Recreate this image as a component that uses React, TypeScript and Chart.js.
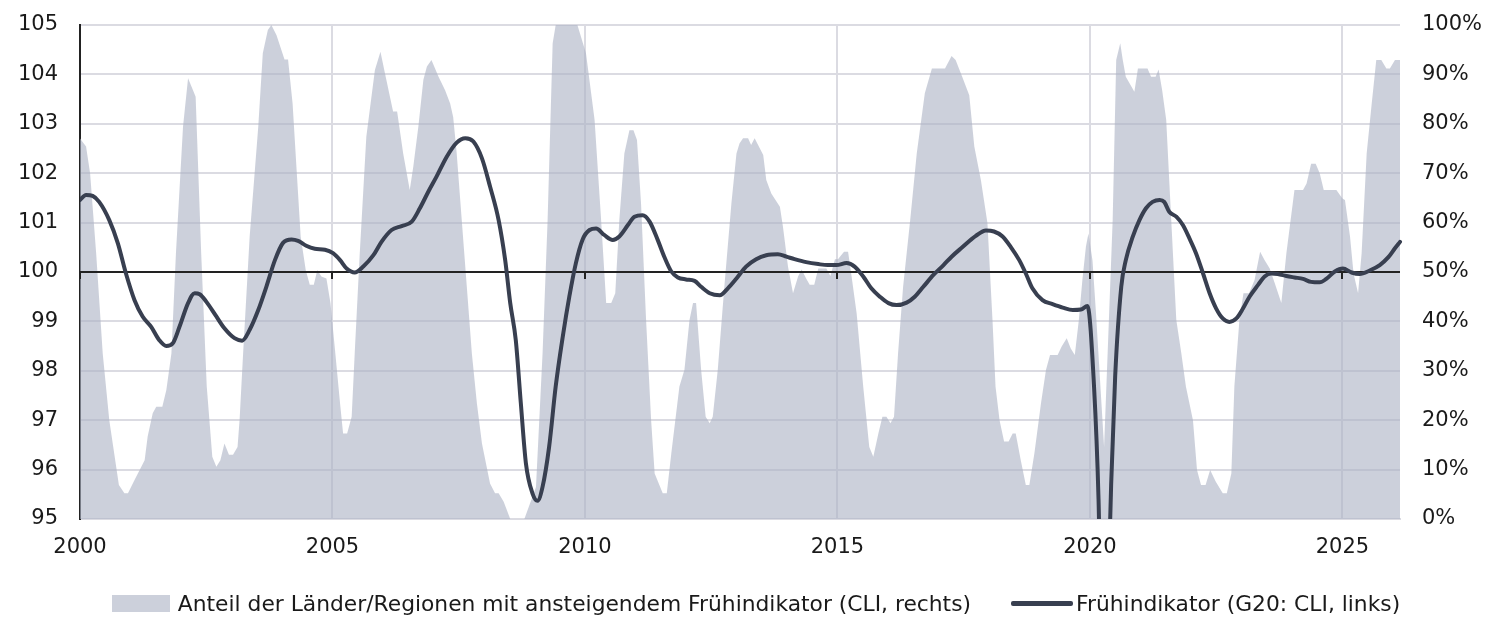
import React, { useEffect, useRef } from "react";
import { Chart, registerables } from "chart.js";

Chart.register(...registerables);

// Share of countries/regions with a rising CLI (right axis, %), x in decimal years
const shareDates = [
  2000.0, 2000.12, 2000.2, 2000.32, 2000.45, 2000.58, 2000.77, 2000.88, 2000.95, 2001.08,
  2001.28, 2001.34, 2001.44, 2001.51, 2001.63, 2001.71, 2001.81, 2001.9, 2002.04, 2002.14,
  2002.25, 2002.29, 2002.4, 2002.51, 2002.62, 2002.7, 2002.78, 2002.86, 2002.95, 2003.03,
  2003.12, 2003.16, 2003.23, 2003.36, 2003.53, 2003.62, 2003.72, 2003.79, 2003.89, 2004.05,
  2004.12, 2004.21, 2004.29, 2004.37, 2004.47, 2004.55, 2004.63, 2004.7, 2004.78, 2004.88,
  2004.96, 2005.05, 2005.15, 2005.21, 2005.29, 2005.38, 2005.44, 2005.54, 2005.67, 2005.84,
  2005.95, 2006.04, 2006.2, 2006.28, 2006.4, 2006.53, 2006.6, 2006.7, 2006.8, 2006.87,
  2006.96, 2007.1, 2007.23, 2007.33, 2007.39, 2007.46, 2007.56, 2007.66, 2007.76, 2007.86,
  2007.96, 2008.12, 2008.22, 2008.29, 2008.39, 2008.52,
  2008.8, 2009.03, 2009.16, 2009.26, 2009.36, 2009.42, 2009.85, 2010.02, 2010.19, 2010.32,
  2010.42, 2010.52, 2010.6, 2010.68, 2010.78, 2010.88, 2010.96, 2011.03, 2011.11, 2011.21,
  2011.31, 2011.38, 2011.54, 2011.62, 2011.71, 2011.87, 2011.97, 2012.07, 2012.14, 2012.2,
  2012.3, 2012.39, 2012.47, 2012.53, 2012.63, 2012.76, 2012.9, 2013.0, 2013.06, 2013.13,
  2013.23, 2013.29, 2013.36, 2013.53, 2013.59, 2013.69, 2013.86, 2013.92, 2014.02, 2014.12,
  2014.22, 2014.29, 2014.38, 2014.45, 2014.54, 2014.62, 2014.78, 2014.86, 2014.95, 2015.01,
  2015.13, 2015.21, 2015.28, 2015.38, 2015.51, 2015.63, 2015.71, 2015.81, 2015.89, 2015.97,
  2016.05, 2016.12, 2016.2, 2016.3, 2016.44, 2016.57, 2016.73, 2016.87, 2017.13, 2017.26,
  2017.34, 2017.47, 2017.61, 2017.71, 2017.84, 2017.97, 2018.07, 2018.13, 2018.21, 2018.3,
  2018.39, 2018.47, 2018.53, 2018.63, 2018.73, 2018.8, 2018.9, 2019.03, 2019.13, 2019.21,
  2019.36, 2019.44, 2019.54, 2019.62, 2019.7, 2019.78, 2019.85, 2019.92, 2019.97, 2020.05,
  2020.12, 2020.28, 2020.45, 2020.52, 2020.6, 2020.65, 2020.71, 2020.88, 2020.95, 2021.14,
  2021.21, 2021.3, 2021.36, 2021.43, 2021.51, 2021.61, 2021.71, 2021.81, 2021.9, 2022.04,
  2022.12, 2022.2, 2022.29, 2022.38, 2022.49, 2022.63, 2022.71, 2022.8, 2022.86, 2022.96,
  2023.04, 2023.15, 2023.26, 2023.37, 2023.46, 2023.56, 2023.66, 2023.79, 2023.89, 2024.05,
  2024.22, 2024.29, 2024.38, 2024.47, 2024.55, 2024.63, 2024.88, 2025.0, 2025.05, 2025.15,
  2025.22, 2025.31, 2025.38, 2025.48, 2025.58, 2025.67, 2025.77, 2025.87, 2025.94, 2026.04,
  2026.14,
];
const shareValues = [
  77, 75.4, 70, 53.8, 33.5, 20, 6.9, 5.2, 5.2, 7.9,
  11.9, 16.7, 21.4, 22.7, 22.7, 26.1, 33.5, 53.8, 79.4, 89.2,
  86.5, 85.5, 53.8, 26.8, 12.6, 10.6, 11.9, 15.3, 13, 13,
  14.6, 20, 33.5, 57.2, 79.4, 94.3, 99, 100, 98, 93,
  93, 84.1, 70.6, 57.2, 50.4, 47.4, 47.4, 50.4, 49.1, 48.7,
  43.7, 34.2, 23.4, 17.3, 17.3, 20.7, 33.5, 53.8, 77.4, 90.9,
  94.6, 90.2, 82.5, 82.5, 74, 66.6, 71.3, 79.4, 88.9, 91.6,
  92.9, 89.5, 86.8, 84.1, 81.4, 74, 60.5, 47, 33.5, 23.4,
  15.3, 7.2, 5.2, 5.2, 3.5, 0,
  0, 6.5, 33.5, 60.5, 96.3, 100, 100, 94.3, 80.8, 60.5,
  43.7, 43.7, 45.7, 60.5, 74, 78.7, 78.7, 76.7, 63.9, 40.3,
  20, 9.2, 5.2, 5.2, 13.3, 26.8, 30.2, 40.3, 43.7, 43.7,
  30.2, 20.7, 19.4, 20.7, 30.2, 47, 63.9, 74, 76, 77.1,
  77.1, 75.7, 77.1, 73.7, 68.6, 65.9, 63.2, 59.2, 51.1, 45.7,
  49.1, 50.5, 48.7, 47.4, 47.4, 50.7, 50.7, 49.2, 52.6, 52.6,
  54.1, 54.1, 49.1, 41.6, 26.8, 14.6, 12.6, 17.3, 20.7, 20.7,
  19.4, 20.7, 33.5, 47, 60.5, 74, 86.2, 91.2, 91.2, 93.7,
  92.9, 89.5, 85.8, 75.4, 68.6, 59.9, 40.3, 26.8, 20, 15.7,
  15.7, 17.3, 17.3, 11.9, 6.9, 6.9, 13.3, 23.4, 30.2, 33.2,
  33.2, 34.9, 36.6, 34.5, 33.2, 40.3, 48.4, 55.1, 57.8, 52.4,
  41.6, 14.6, 60.5, 92.9, 96.3, 92.9, 89.5, 86.5, 91.2, 91.2,
  89.5, 89.5, 91, 86.8, 80.8, 60.5, 40.3, 33.5, 26.8, 20,
  9.9, 6.9, 6.9, 9.9, 7.6, 5.2, 5.2, 9.2, 26.8, 40.3,
  45.7, 45.7, 48.4, 54.1, 52.4, 50.7, 47.7, 43.7, 53.8, 66.6,
  66.6, 67.9, 71.9, 71.9, 70, 66.6, 66.6, 64.9, 64.6, 57.2,
  49.7, 45.7, 53.8, 74, 84.1, 92.9, 92.9, 91.2, 91.2, 92.9,
  92.9,
];

// G20 composite leading indicator (left axis)
const cliDates = [
  2000.0, 2000.12, 2000.25, 2000.38, 2000.58, 2000.75, 2000.91, 2001.08, 2001.24, 2001.41,
  2001.57, 2001.71, 2001.84, 2001.97, 2002.14, 2002.27, 2002.37, 2002.5, 2002.7, 2002.86,
  2003.06, 2003.21, 2003.36, 2003.53, 2003.69, 2003.86, 2004.02, 2004.19, 2004.32, 2004.48,
  2004.65, 2004.85, 2005.01, 2005.15, 2005.28, 2005.44, 2005.61, 2005.81, 2005.97, 2006.17,
  2006.37, 2006.57, 2006.73, 2006.9, 2007.06, 2007.26, 2007.46, 2007.63, 2007.79, 2007.96,
  2008.12, 2008.29, 2008.42, 2008.52, 2008.63, 2008.73, 2008.83, 2008.96, 2009.06, 2009.16,
  2009.29, 2009.42, 2009.56, 2009.69, 2009.82, 2009.95, 2010.09, 2010.22, 2010.38, 2010.55,
  2010.68, 2010.85, 2010.98, 2011.14, 2011.28, 2011.44, 2011.57, 2011.71, 2011.84, 2012.0,
  2012.17, 2012.3, 2012.47, 2012.67, 2012.83, 2013.0, 2013.19, 2013.39, 2013.59, 2013.82,
  2013.99, 2014.15, 2014.38, 2014.62, 2014.81, 2014.98, 2015.18, 2015.34, 2015.51, 2015.67,
  2015.84, 2016.01, 2016.17, 2016.37, 2016.53, 2016.7, 2016.9, 2017.1, 2017.26, 2017.46,
  2017.74, 2017.94, 2018.1, 2018.27, 2018.43, 2018.6, 2018.73, 2018.86, 2019.06, 2019.26,
  2019.46, 2019.66, 2019.82, 2019.95, 2020.08, 2020.17, 2020.25, 2020.33, 2020.42, 2020.5,
  2020.62, 2020.71, 2020.85, 2020.98, 2021.11, 2021.24, 2021.38, 2021.47, 2021.57, 2021.71,
  2021.84, 2021.97, 2022.1, 2022.24, 2022.37, 2022.5, 2022.63, 2022.76, 2022.9, 2023.03,
  2023.16, 2023.33, 2023.46, 2023.59, 2023.72, 2023.89, 2024.05, 2024.22, 2024.38, 2024.55,
  2024.68, 2024.85, 2025.01, 2025.18, 2025.34, 2025.54, 2025.74, 2025.91, 2026.04, 2026.14,
];
const cliValues = [
  101.46, 101.56, 101.54, 101.42, 101.05, 100.58, 99.97, 99.43, 99.1, 98.89,
  98.62, 98.5, 98.56, 98.89, 99.37, 99.57, 99.55, 99.4, 99.1, 98.86,
  98.66, 98.61, 98.83, 99.23, 99.7, 100.24, 100.59, 100.66, 100.63, 100.53,
  100.47, 100.45, 100.38, 100.24, 100.07, 99.99, 100.11, 100.34, 100.61, 100.85,
  100.93, 101.02, 101.29, 101.63, 101.93, 102.33, 102.62, 102.71, 102.64, 102.3,
  101.73, 101.05, 100.24, 99.37, 98.62, 97.34, 96.13, 95.52, 95.37, 95.65,
  96.46, 97.68, 98.69, 99.5, 100.18, 100.65, 100.85, 100.88, 100.75, 100.65,
  100.72, 100.95, 101.12, 101.15, 101.02, 100.65, 100.31, 100.01, 99.89, 99.85,
  99.82, 99.7, 99.57, 99.53, 99.67, 99.87, 100.11, 100.26, 100.34, 100.36,
  100.31, 100.26, 100.2, 100.16, 100.14, 100.14, 100.18, 100.11, 99.91, 99.67,
  99.5, 99.37, 99.33, 99.38, 99.5, 99.7, 99.94, 100.14, 100.31, 100.49,
  100.73, 100.84, 100.82, 100.72, 100.51, 100.24, 99.97, 99.67, 99.43, 99.35,
  99.28, 99.23, 99.24, 99.31, 97.7, 95.4, 91.5, 92.5, 95.7, 97.9,
  99.7, 100.24, 100.72, 101.05, 101.29, 101.42, 101.46, 101.42, 101.22, 101.12,
  100.95, 100.68, 100.38, 99.97, 99.57, 99.26, 99.06, 98.99, 99.06, 99.26,
  99.5, 99.74, 99.91, 99.97, 99.96, 99.92, 99.89, 99.86, 99.8, 99.79,
  99.86, 100.01, 100.07, 99.99, 99.96, 100.03, 100.14, 100.3, 100.48, 100.61,
];

const xRange = [2000, 2026.14];
const leftRange = [95, 105];
const rightRange = [0, 100];
const baselineValue = 100;
const legendLabels = [
  "Anteil der Länder/Regionen mit ansteigendem Frühindikator (CLI, rechts)",
  "Frühindikator (G20: CLI, links)",
];

const FONT_FAMILY = '"DejaVu Sans", "Liberation Sans", sans-serif';
const TEXT_COLOR = "#1a1a1a";
const GRID_COLOR = "rgb(219,219,226)";
const AREA_COLOR = "rgba(173,179,197,0.62)";
const AREA_SWATCH = "rgb(204,208,219)";
const LINE_COLOR = "#383f50";

export default function App() {
  const canvasRef = useRef<HTMLCanvasElement | null>(null);

  useEffect(() => {
    document.body.style.margin = "0";
    const canvas = canvasRef.current;
    if (!canvas) return;

    const baselinePlugin = {
      id: "baseline100",
      afterDatasetDraw(chart: any, args: any) {
        if (args.index !== 0) return;
        const { ctx, chartArea } = chart;
        const yScale = chart.scales.y;
        const xScale = chart.scales.x;
        const y = Math.round(yScale.getPixelForValue(baselineValue));
        ctx.save();
        ctx.strokeStyle = "#222222";
        ctx.lineWidth = 2;
        ctx.beginPath();
        ctx.moveTo(chartArea.left, y);
        ctx.lineTo(chartArea.right, y);
        xScale.ticks.forEach((t: any) => {
          const x = Math.round(xScale.getPixelForValue(t.value));
          ctx.moveTo(x, y);
          ctx.lineTo(x, y + 7);
        });
        ctx.stroke();
        ctx.restore();
      },
    };

    const font = { family: FONT_FAMILY, size: 21 };

    const chart = new Chart(canvas, {
      type: "line",
      data: {
        datasets: [
          {
            label: legendLabels[0],
            data: shareDates.map((d, i) => ({ x: d, y: shareValues[i] })),
            yAxisID: "y1",
            fill: "start",
            backgroundColor: AREA_COLOR,
            borderColor: "rgba(0,0,0,0)",
            borderWidth: 0,
            pointRadius: 0,
            tension: 0,
            order: 2,
          },
          {
            label: legendLabels[1],
            data: cliDates.map((d, i) => ({ x: d, y: cliValues[i] })),
            yAxisID: "y",
            fill: false,
            borderColor: LINE_COLOR,
            borderWidth: 4,
            pointRadius: 0,
            cubicInterpolationMode: "monotone",
            borderCapStyle: "round",
            borderJoinStyle: "round",
            order: 1,
            clip: { left: 0, top: 3, right: 3, bottom: 0 },
          },
        ],
      },
      options: {
        animation: false,
        responsive: false,
        maintainAspectRatio: false,
        layout: { padding: { top: 25, left: 0, right: 0, bottom: 0 } },
        plugins: {
          legend: { display: false },
          tooltip: { enabled: false },
        },
        scales: {
          x: {
            type: "linear",
            min: xRange[0],
            max: xRange[1],
            ticks: {
              stepSize: 5,
              includeBounds: false,
              autoSkip: false,
              maxRotation: 0,
              padding: 16,
              font,
              color: TEXT_COLOR,
              callback: (v: any) => String(v),
            },
            grid: { color: GRID_COLOR, lineWidth: 2, drawTicks: false },
            border: { color: GRID_COLOR, width: 2 },
            afterFit: (s: any) => {
              s.height = 114;
              s.paddingLeft = 0;
              s.paddingRight = 0;
            },
          },
          y: {
            type: "linear",
            position: "left",
            min: leftRange[0],
            max: leftRange[1],
            ticks: { stepSize: 1, padding: 22, font, color: TEXT_COLOR },
            grid: { color: GRID_COLOR, lineWidth: 2, drawTicks: false },
            border: { color: "#222222", width: 2 },
            afterFit: (s: any) => {
              s.width = 80;
              s.paddingTop = 0;
              s.paddingBottom = 0;
            },
          },
          y1: {
            type: "linear",
            position: "right",
            min: rightRange[0],
            max: rightRange[1],
            ticks: {
              stepSize: 10,
              padding: 22,
              font,
              color: TEXT_COLOR,
              callback: (v: any) => `${v}%`,
            },
            grid: { display: false, drawTicks: false },
            border: { display: false },
            afterFit: (s: any) => {
              s.width = 100;
              s.paddingTop = 0;
              s.paddingBottom = 0;
            },
          },
        },
      },
      plugins: [baselinePlugin],
    } as any);

    return () => {
      chart.destroy();
    };
  }, []);

  return (
    <div style={{ position: "absolute", left: 0, top: 0, width: 1500, height: 633, background: "#fff" }}>
      <canvas ref={canvasRef} width={1500} height={633} style={{ display: "block", width: 1500, height: 633 }} />
      <div
        style={{
          position: "absolute",
          left: 6,
          top: 590,
          width: 1500,
          height: 26,
          display: "flex",
          justifyContent: "center",
          alignItems: "center",
          fontFamily: FONT_FAMILY,
          fontSize: 21.8,
          color: TEXT_COLOR,
          whiteSpace: "nowrap",
        }}
      >
        <span style={{ display: "inline-flex", alignItems: "center", marginRight: 40 }}>
          <span style={{ display: "inline-block", width: 58, height: 17, background: AREA_SWATCH, marginRight: 8 }} />
          <span>{legendLabels[0]}</span>
        </span>
        <span style={{ display: "inline-flex", alignItems: "center" }}>
          <span style={{ display: "inline-block", width: 62, height: 5, borderRadius: 2, background: LINE_COLOR, marginRight: 3 }} />
          <span>{legendLabels[1]}</span>
        </span>
      </div>
    </div>
  );
}
